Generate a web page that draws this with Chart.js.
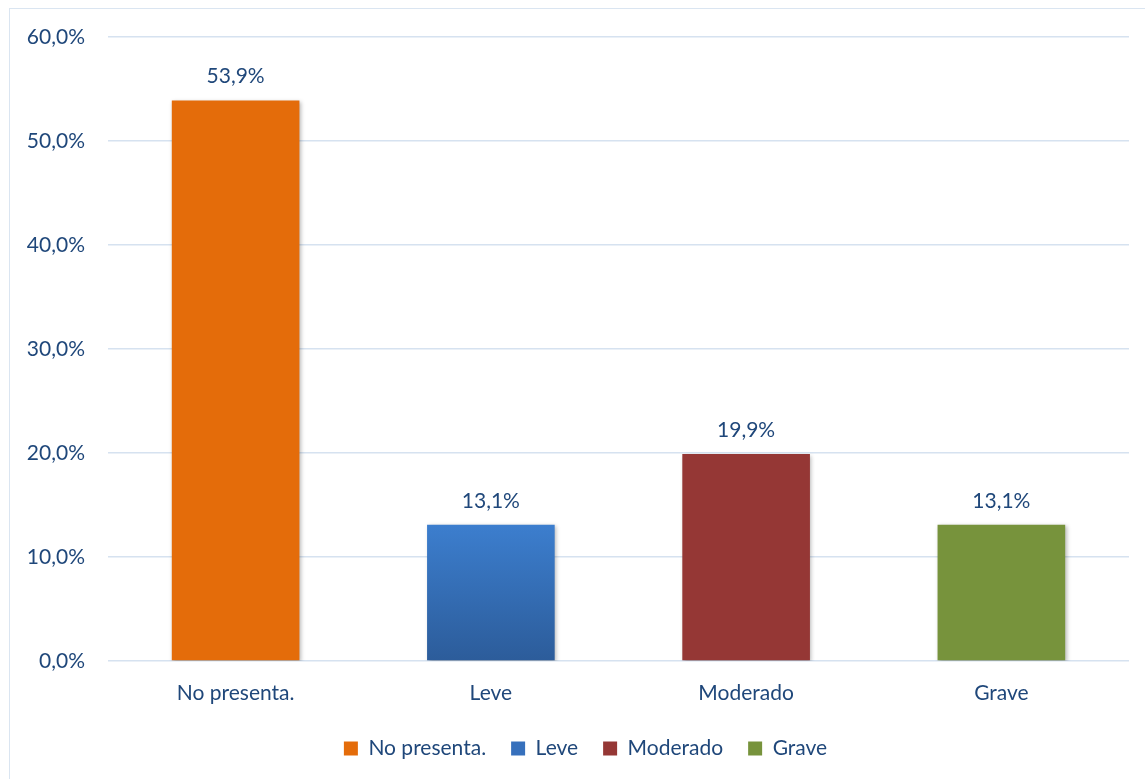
<!DOCTYPE html>
<html>
<head>
<meta charset="utf-8">
<script src="https://cdn.jsdelivr.net/npm/chart.js@4/dist/chart.umd.min.js"></script>
<style>
  html, body { margin: 0; padding: 0; background: #fff; overflow: hidden; }
  #frame { position: absolute; left: 9px; top: 8px; width: 1160px; height: 800px; border: 1.5px solid #DAE5F1; box-sizing: border-box; }
  #wrap { position: absolute; left: 0; top: 0; width: 1145px; height: 779px; }
</style>
</head>
<body>
<div id="frame"></div>
<div id="wrap"><canvas id="c" width="1145" height="779"></canvas></div>
<script>
const categories = ["No presenta.", "Leve", "Moderado", "Grave"];
const values = [53.9, 13.1, 19.9, 13.1];
const yTicks = [0, 10, 20, 30, 40, 50, 60];

const TEXT = "#1F477A";
const FONT = "Lato, 'Open Sans', sans-serif";
const FS = 21;

function fmt(v, d) { return v.toFixed(d).replace(".", ",") + "%"; }

const ctx = document.getElementById("c").getContext("2d");
function blueGrad(chart) {
  const area = chart.chartArea;
  if (!area) return "#3A78C6";
  const y = chart.scales.y;
  const top = y.getPixelForValue(values[1]);
  const g = chart.ctx.createLinearGradient(0, top, 0, y.getPixelForValue(0));
  g.addColorStop(0, "#3C7ECE");
  g.addColorStop(1, "#2C5C9A");
  return g;
}
const solidColors = ["#E46C0A", null, "#953735", "#77933C"];

const labelPlugin = {
  id: "vlabels",
  afterDatasetsDraw(chart) {
    const c = chart.ctx;
    const meta = chart.getDatasetMeta(0);
    c.save();
    c.fillStyle = TEXT;
    c.font = FS + "px " + FONT;
    c.textAlign = "center";
    c.textBaseline = "middle";
    meta.data.forEach((bar, i) => {
      c.fillText(fmt(values[i], 1), bar.x, bar.y - 24);
    });
    c.restore();
  }
};
const shadowPlugin = {
  id: "shadow",
  beforeDatasetsDraw(chart) {
    const c = chart.ctx;
    c.save();
    c.shadowColor = "rgba(0,0,0,0.28)";
    c.shadowBlur = 4;
    c.shadowOffsetX = 1.5;
    c.shadowOffsetY = 1.5;
  },
  afterDatasetsDraw(chart) { chart.ctx.restore(); }
};
const legendShift = {
  id: "legendShift",
  afterLayout(chart) {
    if (chart.legend) { chart.legend.left += 21; chart.legend.right += 21; }
  }
};

new Chart(ctx, {
  type: "bar",
  data: {
    labels: categories,
    datasets: [{
      data: values,
      backgroundColor: (c) => c.dataIndex === 1 ? blueGrad(c.chart) : solidColors[c.dataIndex],
      borderWidth: 0,
      categoryPercentage: 1.0,
      barPercentage: 0.5
    }]
  },
  options: {
    responsive: false,
    animation: false,
    devicePixelRatio: 1,
    layout: { padding: { left: 0, right: 16, top: 37, bottom: 10 } },
    scales: {
      x: {
        grid: { display: false, drawTicks: false },
        border: { display: false },
        ticks: { color: TEXT, font: { size: FS, family: FONT }, padding: 20 },
        afterFit(s) { s.height = 52; }
      },
      y: {
        min: 0, max: 60,
        afterBuildTicks(s) { s.ticks = yTicks.map(v => ({ value: v })); },
        grid: { color: "#D6E2F0", lineWidth: 1.5, drawTicks: false },
        border: { display: false },
        ticks: { color: TEXT, font: { size: FS, family: FONT }, padding: 23, callback: (v) => fmt(v, 1) },
        afterFit(s) { s.width = 108; }
      }
    },
    plugins: {
      tooltip: { enabled: false },
      legend: {
        position: "bottom",
        labels: {
          color: TEXT,
          font: { size: FS, family: FONT },
          boxWidth: 14, boxHeight: 14,
          padding: 25,
          generateLabels(chart) {
            return categories.map((cat, i) => ({
              text: cat,
              fillStyle: i === 1 ? "#3670BC" : solidColors[i],
              strokeStyle: "rgba(0,0,0,0)",
              lineWidth: 0,
              index: i,
              datasetIndex: 0,
              hidden: false,
              fontColor: TEXT
            }));
          }
        }
      }
    }
  },
  plugins: [shadowPlugin, labelPlugin, legendShift]
});
</script>
</body>
</html>
